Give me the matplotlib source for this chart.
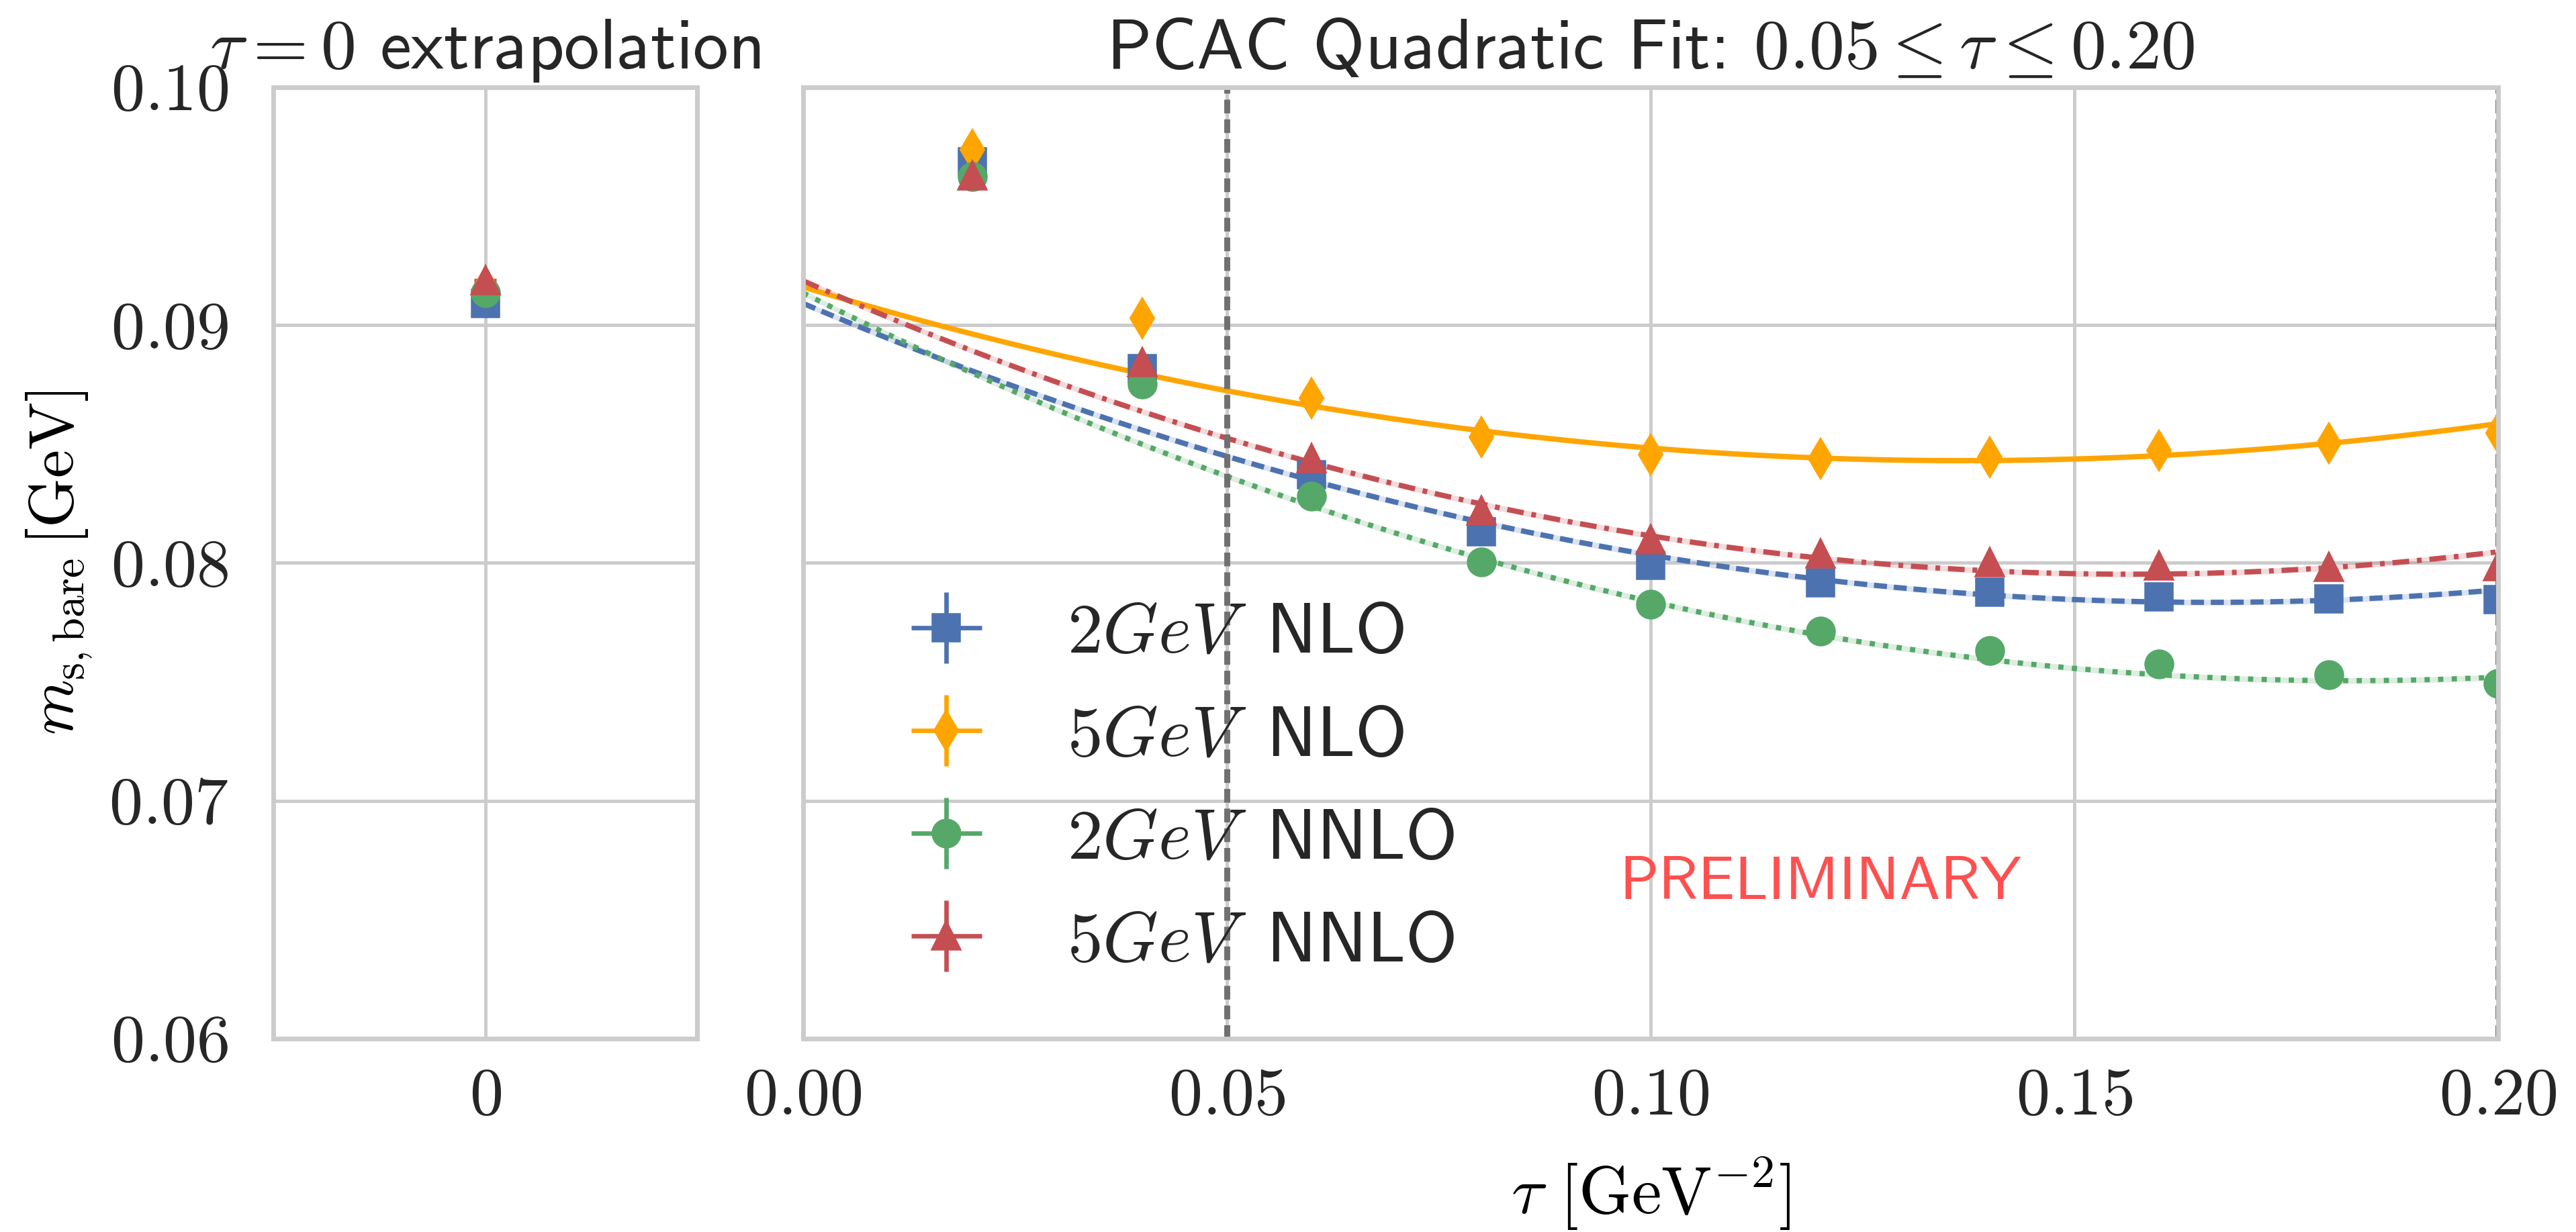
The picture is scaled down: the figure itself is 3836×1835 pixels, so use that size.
import numpy as np
import matplotlib
matplotlib.use("Agg")
import matplotlib.pyplot as plt
from matplotlib.ticker import FuncFormatter

plt.rcParams.update({
    "font.family": ["cmss10", "DejaVu Sans"],
    "mathtext.fontset": "cm",
    "axes.unicode_minus": False,
    "font.size": 19,
    "axes.edgecolor": "#cccccc",
    "axes.linewidth": 1.25,
    "grid.color": "#cccccc",
    "grid.linewidth": 0.9,
    "text.color": "#262626",
    "xtick.color": "#262626",
    "ytick.color": "#262626",
    "xtick.major.size": 0,
    "ytick.major.size": 0,
    "xtick.labelsize": 18,
    "ytick.labelsize": 18,
})

# --- data ---
tau = [0.02, 0.04, 0.06, 0.08, 0.10, 0.12, 0.14, 0.16, 0.18, 0.20]
m_2gev_nlo  = [0.09687, 0.08816, 0.08372, 0.08131, 0.07991, 0.07917, 0.07876, 0.07857, 0.07850, 0.07845]
m_5gev_nlo  = [0.09738, 0.09030, 0.08692, 0.08528, 0.08456, 0.08439, 0.08445, 0.08472, 0.08505, 0.08546]
m_2gev_nnlo = [0.09624, 0.08752, 0.08281, 0.08003, 0.07827, 0.07713, 0.07632, 0.07575, 0.07531, 0.07494]
m_5gev_nnlo = [0.09627, 0.08843, 0.08438, 0.08219, 0.08096, 0.08037, 0.08001, 0.07987, 0.07982, 0.07985]
m_err = 0.0001

# quadratic fit results (0.05 <= tau <= 0.20): m(tau) = c0 + c1*tau + c2*tau^2
fit_c0 = [0.09091, 0.09160, 0.09135, 0.09186]   # = tau -> 0 extrapolation
fit_c1 = [-0.1514, -0.1067, -0.17865, -0.15745]
fit_c2 = [0.456, 0.390, 0.4895, 0.5025]

labels  = [r"$2GeV\,$ NLO", r"$5GeV\,$ NLO", r"$2GeV\,$ NNLO", r"$5GeV\,$ NNLO"]
values  = [m_2gev_nlo, m_5gev_nlo, m_2gev_nnlo, m_5gev_nnlo]
colors  = ["#4C72B0", "orange", "#55A868", "#C44E52"]
markers = ["s", "d", "o", "^"]
dashes  = [(2.5, 1.3), (), (1.0, 1.6), (3.2, 1.5, 0.9, 1.5)]

fig = plt.figure(figsize=(9.59, 4.5875), dpi=400)
ax0 = fig.add_axes([0.1061, 0.157, 0.1645, 0.7722])
ax1 = fig.add_axes([0.3118, 0.157, 0.658, 0.7722], sharey=ax0)

tt = np.linspace(0.0, 0.2, 300)

for i in range(4):
    col = colors[i]
    curve = np.polyval([fit_c2[i], fit_c1[i], fit_c0[i]], tt)
    ax1.fill_between(tt, curve - 0.00012, curve + 0.00012, color=col, alpha=0.2, lw=0)
    ln, = ax1.plot(tt, curve, color=col, lw=1.4)
    if dashes[i]:
        ln.set_dashes(dashes[i])
    ax1.errorbar(tau, values[i], xerr=0, yerr=m_err, fmt=markers[i], color=col, ms=7,
                 elinewidth=1.2, capsize=0, label=labels[i], zorder=4)
    # tau = 0 extrapolation
    ax0.errorbar([0], [fit_c0[i]], xerr=0.08, yerr=m_err, fmt=markers[i], color=col, ms=7,
                 elinewidth=1.2, capsize=0, zorder=4)

for xv in (0.05, 0.20):
    ax1.axvline(xv, color="#707070", lw=1.6, dashes=(2.3, 1.0), zorder=3)

ax1.text(0.12, 0.0665, "PRELIMINARY", color="#ff5050", ha="center", va="center", fontsize=16.5)

for ax in (ax0, ax1):
    ax.set_facecolor("white")
    ax.grid(True)
    ax.set_axisbelow(True)
    for sp in ax.spines.values():
        sp.set_zorder(5)

ax0.set_xlim(-1.5, 1.5)
ax0.set_xticks([0])
ax0.xaxis.set_major_formatter(FuncFormatter(lambda v, p: "$0$"))
ax0.set_ylim(0.06, 0.10)
ax0.set_yticks([0.06, 0.07, 0.08, 0.09, 0.10])
ax0.yaxis.set_major_formatter(FuncFormatter(lambda v, p: f"${v:.2f}$"))
ax0.tick_params(axis="y", pad=12)
ax0.tick_params(axis="x", pad=8)
ax0.set_ylabel(r"$m_{\mathrm{s,bare}}\,[\mathrm{GeV}]$", fontsize=17, labelpad=4)
ax0.set_title(r"$\tau=0$ extrapolation", fontsize=19, pad=5)

ax1.set_xlim(0.0, 0.2)
ax1.set_xticks([0.0, 0.05, 0.10, 0.15, 0.20])
ax1.xaxis.set_major_formatter(FuncFormatter(lambda v, p: f"${v:.2f}$"))
ax1.tick_params(axis="x", pad=8)
ax1.tick_params(axis="y", labelleft=False)
ax1.set_xlabel(r"$\tau\ [\mathrm{GeV}^{-2}]$", fontsize=18, labelpad=7.5)
ax1.set_title(r"PCAC Quadratic Fit: $0.05 \leq \tau \leq 0.20$", fontsize=19, pad=5)

ax1.legend(loc="upper left", bbox_to_anchor=(0.026, 0.525), frameon=False,
           handlelength=1.0, handletextpad=1.2, labelspacing=0.55, fontsize=19)

fig.savefig("out.png", dpi=400, facecolor="white")
